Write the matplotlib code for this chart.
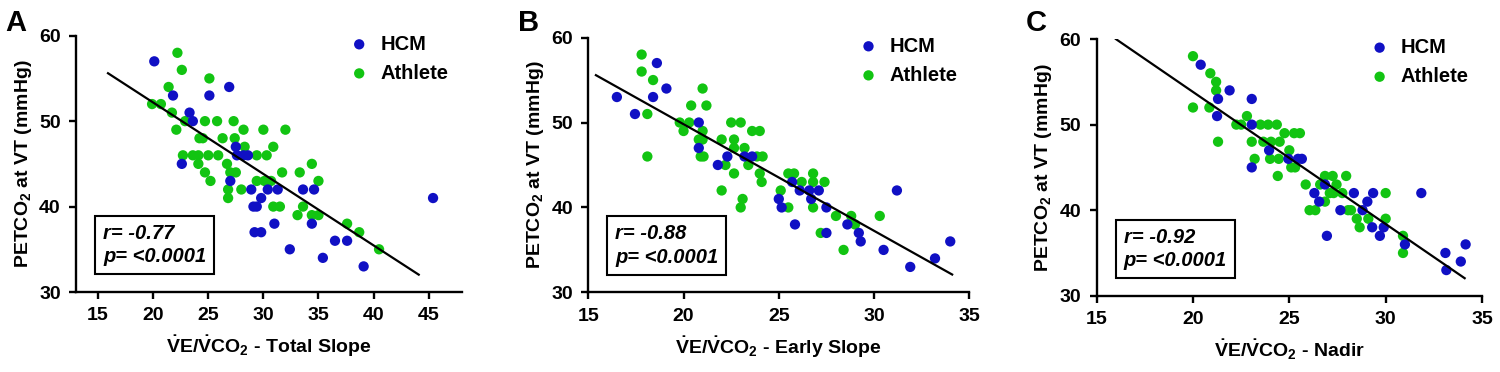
import numpy as np
import matplotlib
matplotlib.use('Agg')
from matplotlib import pyplot as plt

plt.rcParams['font.family'] = ['Liberation Sans', 'DejaVu Sans']
plt.rcParams['font.weight'] = 'bold'
plt.rcParams['mathtext.fontset'] = 'custom'
plt.rcParams['mathtext.rm'] = 'Liberation Sans:bold'
plt.rcParams['mathtext.it'] = 'Liberation Sans:bold:italic'
plt.rcParams['mathtext.bf'] = 'Liberation Sans:bold'
plt.rcParams['mathtext.default'] = 'rm'

# Farben
hcm_color = '#1010c4'
ath_color = '#12c412'

# Panel A - Total Slope
a_hcm_x = [20.1, 21.8, 25.1, 26.9, 23.3, 23.6, 22.6, 27.5, 27.6, 28.2, 28.6, 27.0, 28.9, 30.4, 31.3,
           29.8, 29.1, 29.4, 29.2, 29.8, 31.0, 32.4, 33.6, 34.6, 34.4, 35.4, 36.5, 37.6, 39.1, 45.4]
a_hcm_y = [57, 53, 53, 54, 51, 50, 45, 47, 46, 46, 46, 43, 42, 42, 42,
           41, 40, 40, 37, 37, 38, 35, 42, 42, 38, 34, 36, 36, 33, 41]
a_ath_x = [22.2, 22.6, 25.1, 21.4, 19.9, 20.7, 21.7, 22.9, 24.7, 25.8, 27.3, 22.1, 28.2, 30.0, 32.0,
           24.2, 24.5, 26.3, 27.4, 28.3, 30.9, 22.7, 23.6, 24.1, 25.0, 25.9, 29.4, 30.3, 24.1, 26.7,
           34.4, 24.7, 27.0, 27.5, 31.7, 33.3, 25.2, 29.4, 30.1, 30.7, 35.0, 26.8, 28.0, 26.8, 30.9,
           31.5, 33.6, 33.1, 34.4, 35.0, 37.6, 38.7, 40.5]
a_ath_y = [58, 56, 55, 54, 52, 52, 51, 50, 50, 50, 50, 49, 49, 49, 49,
           48, 48, 48, 48, 47, 47, 46, 46, 46, 46, 46, 46, 46, 45, 45,
           45, 44, 44, 44, 44, 44, 43, 43, 43, 43, 43, 42, 42, 41, 40,
           40, 40, 39, 39, 39, 38, 37, 35]

# Panel B - Early Slope
b_hcm_x = [16.5, 17.45, 18.6, 18.4, 19.1, 20.8, 20.8, 21.8, 22.3, 23.2, 23.6, 25.0, 25.15, 25.7, 25.85,
           26.1, 26.6, 27.1, 26.7, 27.5, 27.5, 28.6, 29.2, 29.3, 30.5, 31.2, 31.9, 33.2, 34.0]
b_hcm_y = [53, 51, 57, 53, 54, 50, 47, 45, 46, 46, 46, 41, 40, 43, 38,
           42, 42, 42, 41, 40, 37, 38, 37, 36, 35, 42, 33, 34, 36]
b_ath_x = [17.8, 17.8, 18.4, 18.1, 18.1, 21.0, 21.2, 20.4, 19.8, 20.3, 20.0, 21.0, 20.8, 21.0, 20.9,
           21.05, 22.0, 22.5, 23.0, 22.65, 22.65, 22.2, 22.65, 22.0, 23.1, 23.0, 23.6, 24.0, 23.2, 23.4,
           23.85, 24.15, 24.0, 24.1, 25.1, 25.5, 25.8, 26.8, 26.2, 26.8, 27.4, 25.5, 26.8, 28.0, 28.8,
           29.0, 30.3, 27.2, 28.4]
b_ath_y = [58, 56, 55, 51, 46, 54, 52, 52, 50, 50, 49, 49, 48, 48, 46,
           46, 48, 50, 50, 48, 47, 45, 44, 42, 41, 40, 49, 49, 47, 45,
           46, 46, 44, 43, 42, 44, 44, 44, 43, 43, 43, 40, 40, 39, 39,
           38, 39, 37, 35]

# Panel C - Nadir
c_hcm_x = [20.4, 21.3, 21.25, 21.9, 23.05, 23.05, 23.05, 23.95, 24.95, 25.45, 25.65, 26.3, 26.55, 26.85, 26.95,
           27.65, 28.35, 28.8, 29.05, 29.35, 29.3, 29.7, 29.9, 31.0, 31.85, 33.1, 33.15, 33.9, 34.15]
c_hcm_y = [57, 53, 51, 54, 53, 50, 45, 47, 46, 46, 46, 42, 41, 43, 37,
           40, 42, 40, 41, 42, 38, 37, 38, 36, 42, 35, 33, 34, 36]
c_ath_x = [20.0, 20.0, 20.85, 20.9, 21.2, 21.2, 21.3, 22.8, 22.25, 22.5, 23.05, 23.2, 23.5, 23.9, 24.35,
           23.65, 24.05, 24.5, 24.75, 25.25, 25.55, 24.0, 24.45, 24.4, 25.0, 25.1, 25.3, 25.85, 26.05, 26.35,
           26.6, 26.85, 27.25, 27.1, 27.3, 27.45, 27.95, 27.75, 26.85, 28.05, 28.2, 28.5, 28.65, 29.1, 30.0,
           30.0, 30.9, 30.9]
c_ath_y = [58, 52, 52, 56, 55, 54, 48, 51, 50, 50, 48, 46, 50, 50, 50,
           48, 48, 48, 49, 49, 49, 46, 46, 44, 47, 45, 45, 43, 40, 40,
           43, 44, 44, 42, 42, 43, 44, 42, 41, 40, 40, 39, 38, 39, 39,
           42, 37, 35]

# Regressionsgeraden (Steigung, Achsenabschnitt, x-Bereich)
fits = [(-0.836, 68.9, (15.9, 44.1)),
        (-1.255, 74.9, (15.4, 34.1)),
        (-1.544, 84.7, (16.0, 34.1))]

panels = ['A', 'B', 'C']
x_labels = [r'$\dot{V}$E/$\dot{V}$CO$_2$ - Total Slope',
            r'$\dot{V}$E/$\dot{V}$CO$_2$ - Early Slope',
            r'$\dot{V}$E/$\dot{V}$CO$_2$ - Nadir']
stats = ['r= -0.77\np= <0.0001', 'r= -0.88\np= <0.0001', 'r= -0.92\np= <0.0001']
x_lims = [(13, 48), (15, 35), (15, 35)]
x_ticks = [[15, 20, 25, 30, 35, 40, 45], [15, 20, 25, 30, 35], [15, 20, 25, 30, 35]]
data = [(a_hcm_x, a_hcm_y, a_ath_x, a_ath_y),
        (b_hcm_x, b_hcm_y, b_ath_x, b_ath_y),
        (c_hcm_x, c_hcm_y, c_ath_x, c_ath_y)]
positions = [[0.0507, 0.215, 0.2571, 0.689],
             [0.3922, 0.214, 0.2540, 0.685],
             [0.7311, 0.205, 0.2569, 0.690]]

fig = plt.figure(figsize=(15, 3.72), dpi=100)

for i in range(3):
    ax = fig.add_axes(positions[i])
    hx, hy, ax_x, ax_y = data[i]
    ax.scatter(ax_x, ax_y, s=55, color=ath_color, edgecolors='none', label='Athlete', zorder=2)
    ax.scatter(hx, hy, s=55, color=hcm_color, edgecolors='none', label='HCM', zorder=3)

    slope, inter, (x0, x1) = fits[i]
    lx = np.array([x0, x1])
    ax.plot(lx, slope * lx + inter, color='black', lw=1.6, zorder=4)

    ax.set_xlim(*x_lims[i])
    ax.set_ylim(30, 60)
    ax.set_xticks(x_ticks[i])
    ax.set_yticks([30, 40, 50, 60])
    ax.spines['top'].set_visible(False)
    ax.spines['right'].set_visible(False)
    for sp in ['left', 'bottom']:
        ax.spines[sp].set_linewidth(1.7)
    ax.tick_params(direction='out', length=5, width=1.7, labelsize=14, pad=6)
    for lab in ax.get_xticklabels() + ax.get_yticklabels():
        lab.set_fontweight('bold')

    ax.set_xlabel(x_labels[i], fontsize=14, fontweight='bold', labelpad=7)
    ax.set_ylabel('PETCO$_2$ at VT (mmHg)', fontsize=14, fontweight='bold', labelpad=4)

    # Legende: HCM zuerst
    handles, labels = ax.get_legend_handles_labels()
    ax.legend(handles[::-1], labels[::-1], loc='upper left', bbox_to_anchor=(0.635, 1.075),
              frameon=False, handletextpad=0.05, labelspacing=0.5,
              markerscale=1.0, prop={'weight': 'bold', 'size': 14.5})

    ax.text(0.07, 0.1, stats[i], transform=ax.transAxes, fontsize=14.5, fontweight='bold',
            style='italic', linespacing=1.3, va='bottom', ha='left',
            bbox=dict(boxstyle='square,pad=0.4', fc='white', ec='black', lw=1.5), zorder=5)

    fig.text(positions[i][0] - 0.047, 0.975, panels[i], fontsize=21, fontweight='bold',
             va='top', ha='left')

plt.savefig('out.png', dpi=100)
